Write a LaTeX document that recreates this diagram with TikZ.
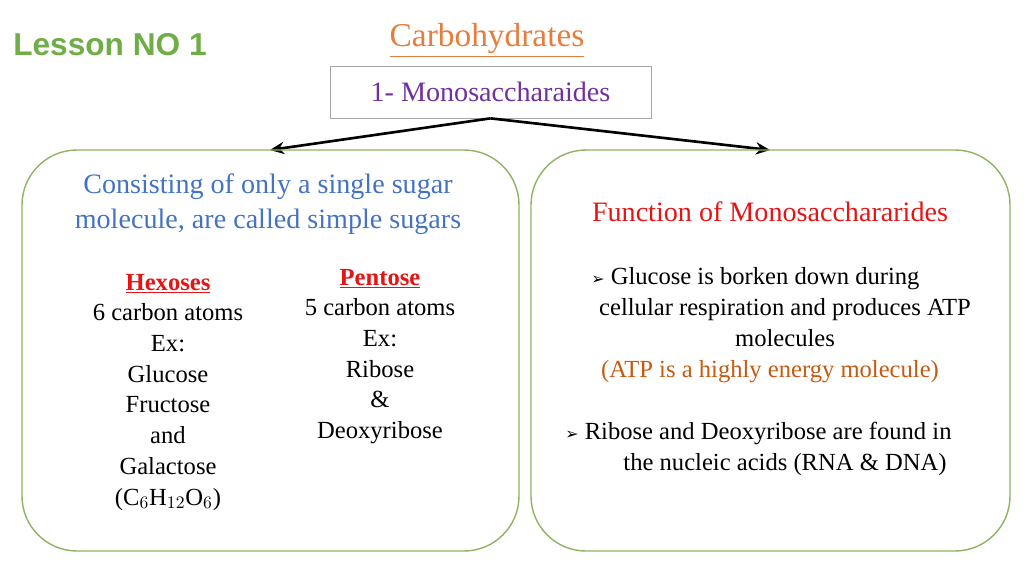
\documentclass[tikz,border=0pt]{standalone}
\usepackage{fontspec}
\setmainfont{Liberation Serif}
\newfontfamily\lsans{Liberation Sans}
\newfontfamily\dejavu{DejaVu Sans}
\usetikzlibrary{arrows.meta}
\definecolor{lgreen}{RGB}{112,173,71}
\definecolor{lorange}{RGB}{230,125,60}
\definecolor{lpurple}{RGB}{112,48,160}
\definecolor{lblue}{RGB}{68,114,196}
\definecolor{lred}{RGB}{230,20,20}
\definecolor{dorange}{RGB}{197,90,17}
\definecolor{boxgreen}{RGB}{140,180,100}
\newcommand{\bul}{{\dejavu\small ➢}}
\tikzset{
  px/.style={x=0.02cm,y=-0.02cm},
  panel/.style={draw=boxgreen,line width=0.8pt,rounded corners=1.1cm},
  txt/.style={font=\fontsize{14}{16}\selectfont,inner sep=0pt,anchor=base},
  ttl/.style={font=\fontsize{16}{18}\selectfont,inner sep=0pt,anchor=base},
  conn/.style={line width=1.5pt,-{Stealth[length=8pt,width=7pt]}}
}
\begin{document}
\begin{tikzpicture}[px]
\useasboundingbox (0,0) rectangle (1024,576);
\node[font=\lsans\bfseries\fontsize{18}{20}\selectfont,text=lgreen,inner sep=0pt] (lesson) at (110,45) {Lesson NO 1};
\node[font=\fontsize{19}{21}\selectfont,text=lorange,inner sep=0pt] (title) at (487,40) {\underline{Carbohydrates}};
\node[draw=gray!70,minimum width=321*0.02cm,minimum height=52*0.02cm,font=\fontsize{16}{18}\selectfont,text=lpurple] (mono) at (490.5,92) {1- Monosaccharaides};
\coordinate (lt) at (270,150);
\coordinate (rt) at (770,150);
\draw[conn] (mono.south) -- (lt);
\draw[conn] (mono.south) -- (rt);
\draw[panel] (22,150) rectangle (519,551);
\draw[panel] (531,150) rectangle (1010,551);
\node[ttl,text=lblue] (c1) at (268,193) {Consisting of only a single sugar};
\node[ttl,text=lblue] (c2) at (268,228) {molecule, are called simple sugars};
\node[txt,text=lred,font=\bfseries\fontsize{14}{16}\selectfont] (hex) at (168,290) {\underline{Hexoses}};
\foreach \t [count=\i] in {6 carbon atoms,Ex:,Glucose,Fructose,and,Galactose}
  \node[txt] (h\i) at (168,290+30.7*\i) {\t};
\node[txt] (h7) at (168,505) {(C$_6$H$_{12}$O$_6$)};
\node[txt,text=lred,font=\bfseries\fontsize{14}{16}\selectfont] (pen) at (380,285) {\underline{Pentose}};
\foreach \t [count=\i] in {5 carbon atoms,Ex:,Ribose,\&,Deoxyribose}
  \node[txt] (p\i) at (380,285+30.7*\i) {\t};
\node[ttl,text=lred] (fn) at (770,221) {Function of Monosacchararides};
\node[txt,anchor=base west] (g1) at (591,284) {\bul\ Glucose is borken down during};
\node[txt] (g2) at (785,315) {cellular respiration and produces ATP};
\node[txt] (g3) at (785,346) {molecules};
\node[txt,text=dorange] (g4) at (770,377) {(ATP is a highly energy molecule)};
\node[txt,anchor=base west] (r1) at (565,439) {\bul\ Ribose and Deoxyribose are found in};
\node[txt] (r2) at (785,470) {the nucleic acids (RNA \& DNA)};
\end{tikzpicture}
\end{document}
